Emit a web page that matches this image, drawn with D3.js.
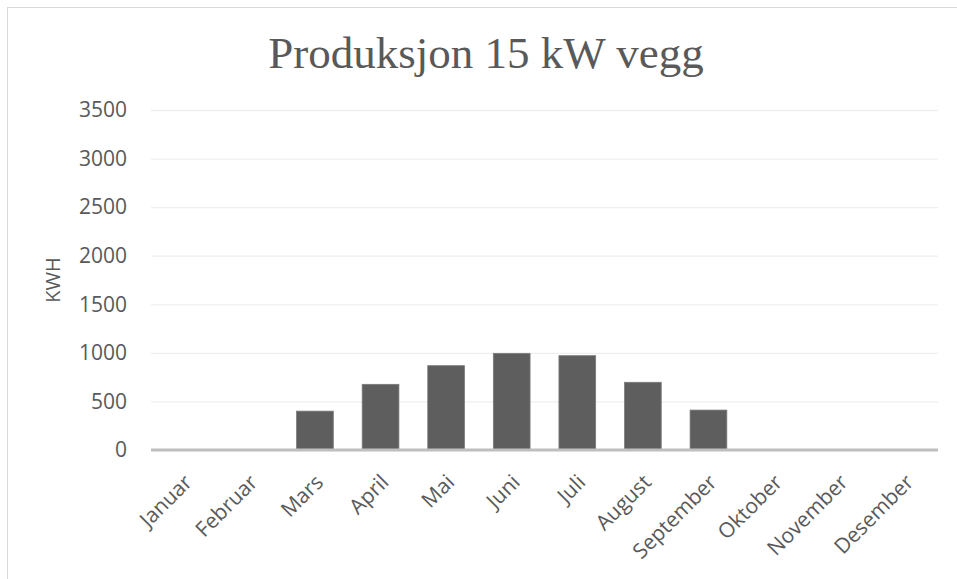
<!DOCTYPE html>
<html>
<head>
<meta charset="utf-8">
<script src="https://cdn.jsdelivr.net/npm/d3@7"></script>
<style>
  body { margin: 0; background: #fff; }
  svg { display: block; }
</style>
</head>
<body>
<svg id="chart" width="957" height="579"></svg>
<script>
// chart data
const months = ['Januar', 'Februar', 'Mars', 'April', 'Mai', 'Juni', 'Juli', 'August', 'September', 'Oktober', 'November', 'Desember'];
const production = [0, 0, 400, 676, 868, 995, 971, 697, 411, 0, 0, 0];
const yTicks = [0, 500, 1000, 1500, 2000, 2500, 3000, 3500];

const svg = d3.select('#chart');

// outer chart frame (runs past the right and bottom edge)
svg.append('rect')
  .attr('x', 7.5)
  .attr('y', 7.5)
  .attr('width', 960)
  .attr('height', 590)
  .attr('fill', '#fff')
  .attr('stroke', '#d9d9d9')
  .attr('stroke-width', 1);

const margin = {top: 110, right: 19, bottom: 129, left: 151};
const width = 957 - margin.left - margin.right;
const height = 579 - margin.top - margin.bottom;

const x = d3.scaleBand()
  .domain(months)
  .range([0, width])
  .paddingInner(0.44)
  .paddingOuter(0.22);

const y = d3.scaleLinear()
  .domain([0, 3500])
  .range([height, 0]);

const chart = svg.append('g')
  .attr('transform', `translate(${margin.left}, ${margin.top})`);

// title
svg.append('text')
  .attr('x', 486)
  .attr('y', 68)
  .attr('text-anchor', 'middle')
  .style('font-family', '"Liberation Serif", serif')
  .style('font-size', '45px')
  .style('fill', '#595959')
  .text('Produksjon 15 kW vegg');

// gridlines + y labels
const yAxis = d3.axisLeft(y)
  .tickValues(yTicks)
  .tickFormat(d3.format('d'))
  .tickSize(-width)
  .tickPadding(24);

const axisY = chart.append('g')
  .attr('class', 'y axis')
  .call(yAxis);

axisY.select('.domain').remove();
axisY.selectAll('.tick line')
  .attr('stroke', '#efefef')
  .attr('stroke-width', 1.3);
axisY.selectAll('.tick text')
  .style('font-family', '"Open Sans", sans-serif')
  .style('font-size', '21px')
  .style('fill', '#595959');

// y axis title
svg.append('text')
  .attr('transform', `translate(60, ${margin.top + height / 2}) rotate(-90)`)
  .attr('text-anchor', 'middle')
  .style('font-family', '"Open Sans", sans-serif')
  .style('font-size', '20px')
  .style('fill', '#595959')
  .text('KWH');

// bars
chart.append('g')
  .selectAll('rect')
  .data(production)
  .join('rect')
  .attr('x', (d, i) => x(months[i]))
  .attr('y', d => y(d))
  .attr('width', x.bandwidth())
  .attr('height', d => height - y(d))
  .attr('fill', '#5e5e5e')
  .attr('stroke', '#7a7a7a')
  .attr('stroke-width', 0.8);

// baseline
chart.append('line')
  .attr('x1', 0)
  .attr('x2', width)
  .attr('y1', y(0))
  .attr('y2', y(0))
  .attr('stroke', '#bfbfbf')
  .attr('stroke-width', 3);

// month labels
const xAxis = d3.axisBottom(x).tickSize(0).tickPadding(0);
const axisX = chart.append('g')
  .attr('class', 'x axis')
  .attr('transform', `translate(0, ${height})`)
  .call(xAxis);

axisX.select('.domain').remove();
axisX.selectAll('.tick text')
  .attr('transform', 'translate(-1, 23) rotate(-45)')
  .attr('text-anchor', 'end')
  .attr('dy', '0.71em')
  .attr('y', 0)
  .attr('x', 0)
  .style('font-family', '"Open Sans", sans-serif')
  .style('font-size', '21px')
  .style('fill', '#595959');
</script>
</body>
</html>
